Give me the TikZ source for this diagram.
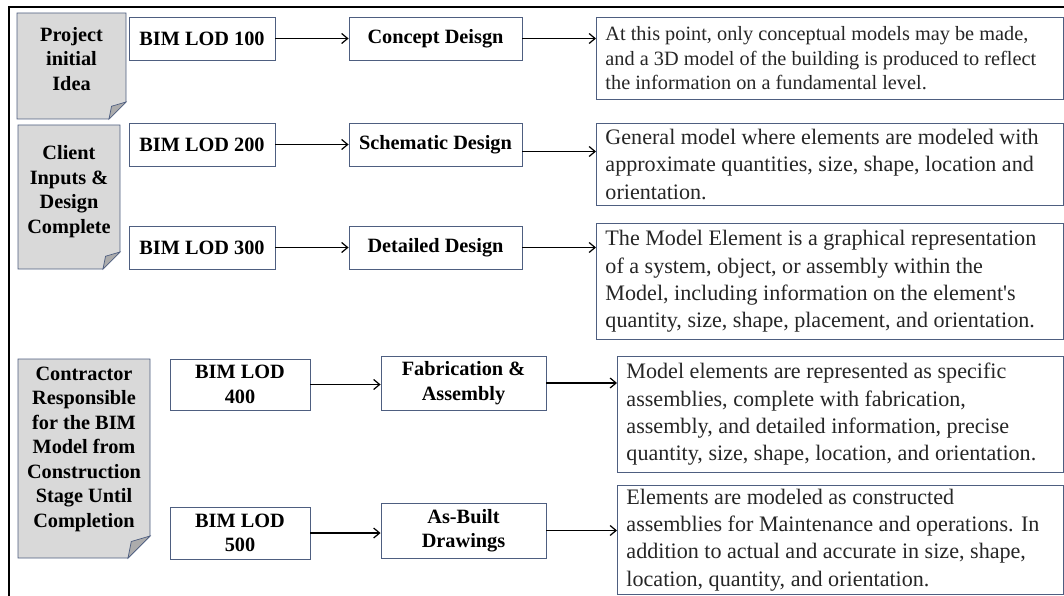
\documentclass[tikz,border=0pt]{standalone}
\usepackage{fontspec}
\setmainfont{Liberation Serif}
\usetikzlibrary{arrows.meta}

\definecolor{boxline}{RGB}{78,94,128}
\definecolor{notegrey}{RGB}{217,217,217}
\definecolor{foldgrey}{RGB}{172,172,172}
\definecolor{infotext}{RGB}{38,38,38}

\begin{document}
\begin{tikzpicture}[x=1pt,y=-1pt,
    lbl/.style={draw=boxline, line width=0.9pt, fill=white, inner sep=0pt,
      align=center, font=\bfseries\fontsize{20.3}{24.5}\selectfont},
    info/.style={draw=boxline, line width=0.9pt, fill=white, anchor=north west,
      inner xsep=9pt, inner ysep=0pt, align=flush left, text=infotext,
      font=\fontsize{22.1}{27.3}\selectfont},
    note/.style={inner sep=0pt, align=center, font=\bfseries\fontsize{20.3}{24.5}\selectfont},
    link/.style={-{Straight Barb[length=6pt,width=10pt]}, line width=1.2pt}]

  \useasboundingbox (0,0) rectangle (1064,596);

  % outer frame
  \draw[line width=1.5pt] (1064,7) -- (9,7) -- (9,596);

  % folded notes
  \foreach \xa/\ya/\xb/\yb/\d in {17/13/126/119/17, 18/125/120/269/17, 18/359/150/558/22} {
    \filldraw[draw=boxline, fill=notegrey, line width=0.9pt]
      (\xa,\ya) -- (\xb,\ya) -- (\xb,\yb-\d) -- (\xb-\d,\yb) -- (\xa,\yb) -- cycle;
    \filldraw[draw=boxline, fill=foldgrey, line width=0.7pt]
      (\xb-\d,\yb) -- (\xb-0.85*\d,\yb-0.75*\d) -- (\xb,\yb-\d) -- cycle;
  }
  \node[note] (idea) at (71.5,59) {Project\\initial\\Idea};
  \node[note] (client) at (69,191.5) {Client\\Inputs \&\\Design\\Complete};
  \node[note] (contractor) at (84,449) {Contractor\\Responsible\\for the BIM\\Model from\\Construction\\Stage Until\\Completion};

  % LOD 100 - 300
  \foreach \n/\y/\stage in {1/38.5/Concept Deisgn, 2/144.5/Schematic Design, 3/247.5/Detailed Design} {
    \node[lbl, minimum width=146pt, minimum height=43pt] (lod\n) at (202,\y) {BIM LOD \n00};
    \node[lbl, minimum width=173pt, minimum height=43pt] (stage\n) at (435.5,\y) {\stage};
    \draw[link] (lod\n) -- (stage\n);
  }

  % LOD 400 - 500
  \node[lbl, minimum width=140pt, minimum height=51pt] (lod4) at (240,384.5) {BIM LOD\\400};
  \node[lbl, minimum width=140pt, minimum height=52pt] (lod5) at (240,533) {BIM LOD\\500};
  \node[lbl, minimum width=165pt, minimum height=54pt] (stage4) at (463.5,383) {Fabrication \&\\Assembly};
  \node[lbl, minimum width=165pt, minimum height=55pt] (stage5) at (463.5,530.5) {As-Built\\Drawings};
  \draw[link] (lod4.east) -- (lod4.east -| stage4.west);
  \draw[link] (lod5.east) -- (lod5.east -| stage5.west);

  % descriptions
  \node[info, font=\fontsize{20.3}{24.5}\selectfont, text width=449pt, minimum height=82pt] (info1) at (596,17)
    {At this point, only conceptual models may be made,\\and a 3D model of the building is produced to reflect\\the information on a fundamental level.};
  \node[info, text width=449pt, minimum height=82pt] (info2) at (596,123)
    {General model where elements are modeled with\\approximate quantities, size, shape, location and\\orientation.};
  \node[info, text width=449pt, minimum height=116pt] (info3) at (596,223)
    {The Model Element is a graphical representation\\of a system, object, or assembly within the\\Model, including information on the element\textquotesingle s\\quantity, size, shape, placement, and orientation.};
  \node[info, text width=428pt, minimum height=116pt] (info4) at (617,356)
    {Model elements are represented as specific\\assemblies, complete with fabrication,\\assembly, and detailed information, precise\\quantity, size, shape, location, and orientation.};
  \node[info, text width=428pt, minimum height=109pt] (info5) at (617,485)
    {Elements are modeled as constructed\\assemblies for Maintenance and operations. In\\addition to actual and accurate in size, shape,\\location, quantity, and orientation.};

  % stage to description
  \draw[link] (stage1.east) -- (stage1.east -| info1.west);
  \draw[link] ([yshift=-7pt]stage2.east) -- ([yshift=-7pt]stage2.east -| info2.west);
  \draw[link] (stage3.east) -- (stage3.east -| info3.west);
  \draw[link] (stage4.east) -- (stage4.east -| info4.west);
  \draw[link] (stage5.east) -- (stage5.east -| info5.west);
\end{tikzpicture}
\end{document}
